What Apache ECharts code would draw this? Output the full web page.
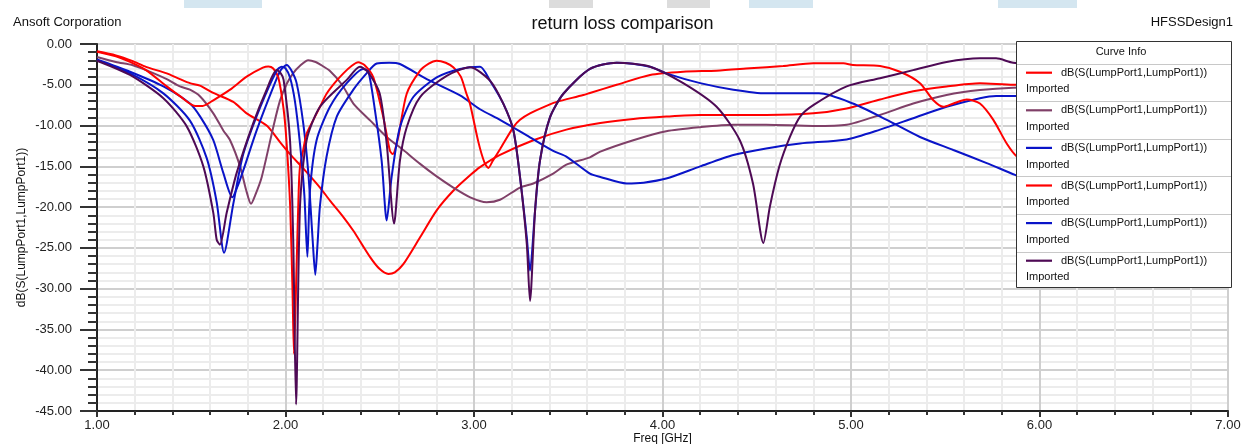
<!DOCTYPE html>
<html>
<head>
<meta charset="utf-8">
<script src="https://cdn.jsdelivr.net/npm/echarts@6/dist/echarts.min.js"></script>
<style>
  html, body { margin: 0; padding: 0; background: #fff; }
  #chart { width: 1245px; height: 444px; }
</style>
</head>
<body>
<div id="chart"></div>
<script>
// ---- data (freq GHz, dB) ----
const xTicks = [1, 2, 3, 4, 5, 6, 7];
const yTicks = [0, -5, -10, -15, -20, -25, -30, -35, -40, -45];
const seriesNames = ['c1', 'c2', 'c3', 'c4', 'c5', 'c6'];
const curveLabel = 'dB(S(LumpPort1,LumpPort1))';
const curveSub = 'Imported';

const red1 = [[1.00,-0.9],[1.1,-1.4],[1.19,-2.1],[1.26,-2.8],[1.37,-3.6],[1.44,-4.3],[1.493,-4.8],[1.546,-5.1],[1.617,-6.0],[1.723,-7.1],[1.794,-8.5],[1.9,-10.0],[1.97,-12.0],[2.024,-13.5],[2.1,-15.4],[2.183,-17.6],[2.236,-19.2],[2.3,-21.0],[2.36,-22.9],[2.448,-26.1],[2.5,-27.6],[2.546,-28.2],[2.58,-28.0],[2.625,-27.0],[2.714,-23.7],[2.802,-20.4],[2.89,-18.0],[2.979,-16.1],[3.032,-15.1],[3.138,-13.6],[3.315,-11.8],[3.49,-10.5],[3.67,-9.7],[3.845,-9.2],[4.02,-8.9],[4.2,-8.7],[4.55,-8.7],[4.8,-8.5],[4.977,-7.9],[5.154,-6.8],[5.33,-5.8],[5.507,-5.2],[5.684,-4.8],[5.86,-5.0],[6.2,-5.0],[6.6,-5.2],[7.0,-5.5]];

const mauve = [[1.0,-1.6],[1.1,-2.2],[1.19,-2.6],[1.26,-3.2],[1.37,-4.3],[1.44,-5.2],[1.493,-5.6],[1.546,-6.4],[1.617,-8.5],[1.67,-10.6],[1.706,-11.8],[1.759,-15.0],[1.79,-17.8],[1.817,-19.6],[1.84,-18.5],[1.874,-16.3],[1.935,-10.2],[1.97,-7.0],[2.006,-4.9],[2.04,-3.6],[2.077,-2.66],[2.121,-2.0],[2.16,-2.2],[2.183,-2.5],[2.236,-3.3],[2.3,-5.0],[2.36,-7.3],[2.45,-9.4],[2.537,-11.4],[2.63,-13.1],[2.714,-14.7],[2.8,-16.2],[2.89,-17.6],[2.98,-18.8],[3.067,-19.4],[3.138,-19.1],[3.244,-17.6],[3.315,-17.1],[3.42,-15.9],[3.49,-14.8],[3.615,-13.9],[3.67,-13.2],[3.845,-11.8],[4.02,-10.7],[4.2,-10.2],[4.376,-9.9],[4.55,-9.9],[4.8,-10.05],[4.977,-9.9],[5.154,-8.7],[5.33,-7.3],[5.507,-6.25],[5.684,-5.64],[5.86,-5.35],[6.2,-5.2],[7.0,-5.0]];

const blue1 = [[1.0,-1.9],[1.175,-3.4],[1.352,-5.2],[1.493,-7.3],[1.55,-9.0],[1.617,-11.8],[1.67,-15.8],[1.718,-18.8],[1.745,-17.5],[1.776,-15.5],[1.847,-10.6],[1.935,-5.3],[1.975,-3.2],[2.006,-2.57],[2.03,-3.2],[2.059,-4.8],[2.094,-9.7],[2.121,-15.8],[2.144,-24.0],[2.158,-28.3],[2.17,-24.5],[2.183,-19.8],[2.218,-13.8],[2.272,-8.9],[2.36,-5.6],[2.43,-3.6],[2.484,-2.4],[2.55,-2.3],[2.607,-2.45],[2.749,-4.3],[2.926,-6.3],[3.032,-8.0],[3.138,-9.3],[3.28,-11.2],[3.42,-13.1],[3.49,-13.8],[3.615,-15.9],[3.67,-16.3],[3.81,-17.1],[3.9,-17.0],[4.02,-16.5],[4.2,-15.0],[4.376,-13.6],[4.55,-12.8],[4.73,-12.2],[4.977,-11.7],[5.154,-10.5],[5.33,-9.1],[5.507,-7.7],[5.684,-6.65],[5.77,-6.37],[5.86,-6.37],[6.2,-6.3],[7.0,-6.0]];

const red2 = [[1.0,-0.95],[1.1,-1.5],[1.175,-2.2],[1.26,-3.2],[1.37,-5.2],[1.44,-6.4],[1.52,-7.6],[1.56,-7.6],[1.617,-6.9],[1.706,-5.6],[1.794,-4.0],[1.88,-2.9],[1.909,-2.75],[1.935,-3.0],[1.962,-4.1],[1.99,-8.0],[2.006,-12.2],[2.025,-20.0],[2.037,-30.0],[2.045,-38.0],[2.058,-28.0],[2.07,-18.0],[2.077,-15.0],[2.094,-13.0],[2.112,-11.0],[2.148,-9.3],[2.183,-7.7],[2.218,-6.1],[2.26,-4.8],[2.307,-3.6],[2.35,-2.7],[2.386,-2.25],[2.42,-2.6],[2.466,-4.1],[2.519,-9.0],[2.554,-13.1],[2.569,-13.5],[2.598,-11.4],[2.643,-6.1],[2.714,-3.27],[2.76,-2.4],[2.802,-2.05],[2.85,-2.3],[2.89,-2.86],[2.93,-4.0],[2.96,-6.1],[2.979,-7.35],[3.023,-12.0],[3.055,-14.5],[3.076,-15.2],[3.1,-14.3],[3.138,-12.9],[3.209,-10.2],[3.244,-9.3],[3.297,-8.5],[3.403,-7.4],[3.439,-7.1],[3.58,-6.25],[3.615,-6.0],[3.757,-5.0],[3.934,-3.8],[4.11,-3.4],[4.287,-3.27],[4.464,-2.98],[4.64,-2.7],[4.8,-2.37],[4.96,-2.37],[5.01,-2.57],[5.154,-2.7],[5.26,-3.4],[5.366,-4.8],[5.437,-6.9],[5.49,-7.7],[5.543,-7.3],[5.614,-6.8],[5.684,-7.3],[5.755,-9.3],[5.826,-12.2],[5.88,-13.8],[6.0,-15.5],[6.3,-18.0],[7.0,-20.0]];

const blue2 = [[1.0,-2.0],[1.175,-3.6],[1.352,-6.05],[1.493,-9.4],[1.582,-14.0],[1.635,-19.4],[1.674,-25.6],[1.723,-19.6],[1.776,-13.5],[1.865,-7.8],[1.953,-3.27],[1.98,-2.78],[2.0,-3.0],[2.024,-4.1],[2.05,-7.0],[2.077,-12.25],[2.1,-18.5],[2.116,-26.1],[2.13,-17.9],[2.165,-11.8],[2.236,-7.7],[2.325,-4.8],[2.413,-3.06],[2.44,-3.4],[2.475,-8.2],[2.51,-14.3],[2.537,-21.65],[2.563,-16.3],[2.607,-10.2],[2.678,-6.5],[2.802,-4.1],[2.926,-3.06],[3.032,-2.78],[3.085,-4.5],[3.156,-7.35],[3.209,-10.6],[3.244,-16.3],[3.28,-23.7],[3.297,-27.8],[3.324,-20.4],[3.35,-14.3],[3.403,-9.0],[3.474,-6.1],[3.615,-3.06],[3.757,-2.29],[3.934,-2.78],[4.02,-3.6],[4.2,-4.8],[4.376,-5.6],[4.55,-6.05],[4.83,-6.05],[5.01,-7.3],[5.19,-9.3],[5.366,-11.4],[5.543,-13.0],[5.72,-14.6],[5.87,-16.05],[6.2,-19.0],[7.0,-24.0]];

const purple = [[1.0,-2.05],[1.175,-3.8],[1.352,-6.65],[1.476,-10.1],[1.564,-15.0],[1.617,-20.7],[1.635,-24.0],[1.652,-24.6],[1.688,-20.7],[1.741,-15.8],[1.829,-9.7],[1.9,-5.6],[1.953,-3.2],[1.975,-3.6],[1.99,-4.4],[2.024,-11.8],[2.041,-24.0],[2.056,-44.2],[2.077,-19.9],[2.112,-11.8],[2.183,-7.7],[2.325,-4.4],[2.395,-2.78],[2.44,-3.5],[2.5,-6.1],[2.537,-12.25],[2.576,-22.0],[2.607,-14.3],[2.643,-10.2],[2.714,-6.5],[2.855,-3.9],[2.979,-2.86],[3.085,-4.5],[3.156,-7.35],[3.209,-10.6],[3.244,-16.3],[3.28,-24.5],[3.297,-31.5],[3.324,-20.4],[3.35,-14.3],[3.403,-9.0],[3.474,-6.1],[3.615,-3.06],[3.757,-2.29],[3.934,-2.78],[4.11,-4.8],[4.287,-7.7],[4.41,-11.8],[4.48,-17.1],[4.535,-24.4],[4.57,-19.9],[4.62,-15.0],[4.676,-11.4],[4.73,-8.9],[4.8,-7.5],[4.977,-5.2],[5.154,-4.2],[5.33,-3.2],[5.507,-2.2],[5.684,-1.76],[5.77,-1.76],[5.86,-2.29],[6.2,-3.0],[7.0,-4.0]];

const curveData = [red1, mauve, blue1, red2, blue2, purple];
const curveColors = ['#ff0000', '#804068', '#0a14c8', '#ff0000', '#0a14c8', '#4e0a55'];

// ---- chart ----
const FONT = 'Arial, "Liberation Sans", sans-serif';
const chart = echarts.init(document.getElementById('chart'), null, { renderer: 'canvas' });

const series = curveData.map((d, i) => ({
  name: seriesNames[i],
  type: 'line',
  data: d,
  symbol: 'none',
  smooth: 0.25,
  lineStyle: { color: curveColors[i], width: 2 },
  itemStyle: { color: curveColors[i] },
  z: 2,
  clip: true
}));

const rowH = 37.6;
const graphics = [];
// top strip artifacts
[[184,78,'#d4e6f0'],[549,44,'#dcdcdc'],[667,43,'#dcdcdc'],[749,64,'#d4e6f0'],[998,79,'#d4e6f0']].forEach(r => {
  graphics.push({ type: 'rect', shape: { x: r[0], y: 0, width: r[1], height: 8 }, style: { fill: r[2] }, z: 0 });
});
// legend box
graphics.push({ type: 'rect', shape: { x: 1016.5, y: 41.5, width: 215, height: 246 },
  style: { fill: '#ffffff', stroke: '#333', lineWidth: 1 }, z: 3 });
graphics.push({ type: 'text', x: 1121, y: 52, z: 5,
  style: { text: 'Curve Info', fill: '#111', font: '11px ' + FONT, textAlign: 'center', textVerticalAlign: 'middle' } });
const sepYs = [63.5];
for (let k = 1; k < 6; k++) sepYs.push(63.5 + k * rowH);
sepYs.forEach(y => {
  graphics.push({ type: 'line', shape: { x1: 1017, y1: Math.round(y) + 0.5, x2: 1231, y2: Math.round(y) + 0.5 },
    style: { stroke: '#c8c8c8', lineWidth: 1 }, z: 4 });
});
for (let k = 0; k < 6; k++) {
  graphics.push({ type: 'text', x: 1026, y: 89.3 + k * rowH, z: 5,
    style: { text: curveSub, fill: '#111', font: '11px ' + FONT, textAlign: 'left', textVerticalAlign: 'middle' } });
}

const option = {
  backgroundColor: '#ffffff',
  animation: false,
  title: [
    { text: 'return loss comparison', left: 'center', top: 10,
      textStyle: { fontFamily: FONT, fontSize: 18, fontWeight: 'normal', color: '#111' } },
    { text: 'Ansoft Corporation', left: 8, top: 11,
      textStyle: { fontFamily: FONT, fontSize: 13, fontWeight: 'normal', color: '#111' } },
    { text: 'HFSSDesign1', right: 7, top: 11,
      textStyle: { fontFamily: FONT, fontSize: 13, fontWeight: 'normal', color: '#111' } }
  ],
  grid: { left: 97, top: 44, right: 17, bottom: 33, outerBoundsMode: 'none', containLabel: false,
          show: true, borderColor: '#333', borderWidth: 2, backgroundColor: 'transparent' },
  legend: {
    data: seriesNames.map(n => ({ name: n, icon: 'path://M0,0H26V2.2H0Z' })),
    orient: 'vertical',
    left: 1026,
    top: 65.7,
    padding: 0,
    itemWidth: 26,
    itemHeight: 14,
    itemGap: rowH - 14,
    selectedMode: false,
    formatter: () => curveLabel,
    textStyle: { fontFamily: FONT, fontSize: 11, color: '#111', lineHeight: 14, padding: [0, 0, 0, 4] },
    z: 6
  },
  xAxis: {
    type: 'value',
    min: xTicks[0], max: xTicks[xTicks.length - 1], interval: 1,
    name: 'Freq [GHz]', nameLocation: 'middle', nameGap: 22, nameMoveOverlap: false,
    nameTextStyle: { fontFamily: FONT, fontSize: 12, color: '#111' },
    axisLine: { show: true, onZero: false, lineStyle: { color: '#222', width: 2 } },
    axisTick: { show: true, length: 6, lineStyle: { color: '#333', width: 2 } },
    minorTick: { show: true, splitNumber: 5, length: 4, lineStyle: { color: '#333', width: 2 } },
    axisLabel: { fontFamily: FONT, fontSize: 13, color: '#222', margin: 8, formatter: v => v.toFixed(2) },
    splitLine: { show: true, lineStyle: { color: '#cfcfcf', width: 2 } },
    minorSplitLine: { show: true, lineStyle: { color: '#ececec', width: 2 } }
  },
  yAxis: {
    type: 'value',
    min: yTicks[yTicks.length - 1], max: yTicks[0], interval: 5,
    name: 'dB(S(LumpPort1,LumpPort1))', nameLocation: 'middle', nameGap: 69, nameRotate: 90, nameMoveOverlap: false,
    nameTextStyle: { fontFamily: FONT, fontSize: 12, color: '#111' },
    axisLine: { show: true, onZero: false, lineStyle: { color: '#222', width: 2 } },
    axisTick: { show: true, length: 17, lineStyle: { color: '#333', width: 2 } },
    minorTick: { show: true, splitNumber: 5, length: 9, lineStyle: { color: '#333', width: 2 } },
    axisLabel: { fontFamily: FONT, fontSize: 13, color: '#222', margin: 25, formatter: v => v.toFixed(2) },
    splitLine: { show: true, lineStyle: { color: '#cfcfcf', width: 2 } },
    minorSplitLine: { show: true, lineStyle: { color: '#ececec', width: 2 } }
  },
  graphic: graphics,
  series: series
};
chart.setOption(option);
</script>
</body>
</html>
